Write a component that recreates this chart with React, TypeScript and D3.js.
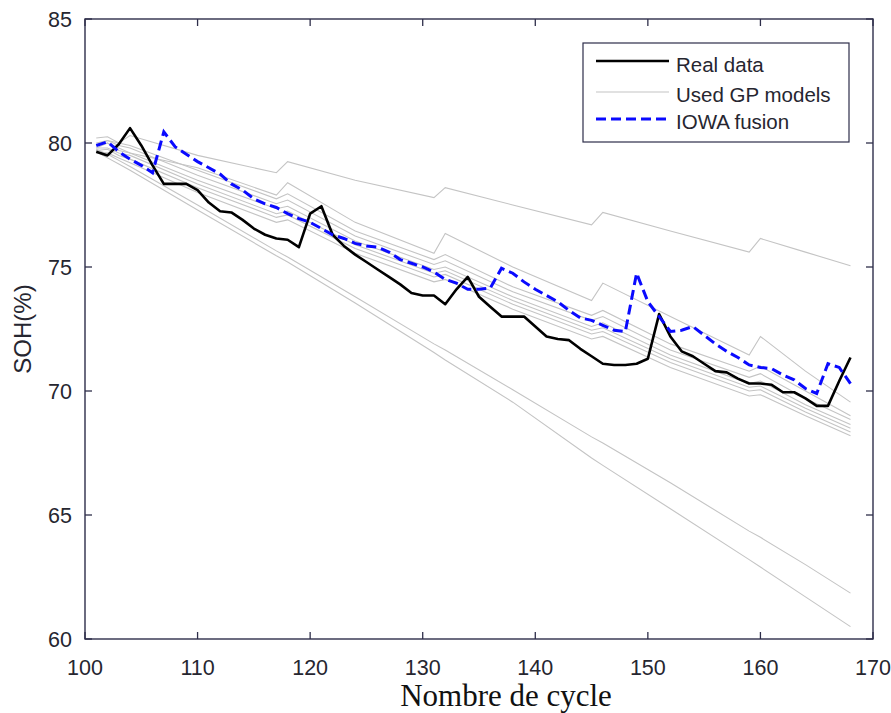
import React from 'react';
import * as d3 from 'd3';

// Cycle index for the measured and fused series
const cycles = [
  101, 102, 103, 104, 105, 106, 107, 108, 109, 110,
  111, 112, 113, 114, 115, 116, 117, 118, 119, 120,
  121, 122, 123, 124, 125, 126, 127, 128, 129, 130,
  131, 132, 133, 134, 135, 136, 137, 138, 139, 140,
  141, 142, 143, 144, 145, 146, 147, 148, 149, 150,
  151, 152, 153, 154, 155, 156, 157, 158, 159, 160,
  161, 162, 163, 164, 165, 166, 167, 168,
];

// Measured state of health (%)
const realData = [
  79.65, 79.5, 79.95, 80.6, 79.9, 79.1, 78.35, 78.35, 78.35, 78.1,
  77.6, 77.25, 77.2, 76.9, 76.55, 76.3, 76.15, 76.1, 75.8, 77.15,
  77.45, 76.3, 75.85, 75.5, 75.2, 74.9, 74.6, 74.3, 73.95, 73.85,
  73.85, 73.5, 74.1, 74.6, 73.8, 73.4, 73.0, 73.0, 73.0, 72.6,
  72.2, 72.1, 72.05, 71.7, 71.4, 71.1, 71.05, 71.05, 71.1, 71.3,
  73.1, 72.2, 71.6, 71.4, 71.1, 70.8, 70.75, 70.5, 70.3, 70.3,
  70.25, 69.95, 69.95, 69.7, 69.4, 69.4, 70.4, 71.35,
];

// IOWA-operator fusion of the GP predictions
const iowaFusion = [
  79.9, 80.05, 79.65, 79.35, 79.1, 78.8, 80.45, 79.85, 79.55, 79.25,
  79.0, 78.75, 78.35, 78.1, 77.75, 77.55, 77.4, 77.15, 76.95, 76.8,
  76.55, 76.3, 76.15, 75.95, 75.85, 75.8, 75.6, 75.3, 75.15, 75.0,
  74.8, 74.5, 74.35, 74.1, 74.1, 74.15, 74.95, 74.75, 74.4, 74.1,
  73.85, 73.6, 73.25, 72.95, 72.85, 72.65, 72.45, 72.4, 74.75, 73.6,
  73.0, 72.4, 72.45, 72.6, 72.25, 71.9, 71.6, 71.35, 71.05, 70.95,
  70.9, 70.65, 70.45, 70.1, 69.9, 71.1, 70.95, 70.3,
];

// GP model predictions, given at their vertices (models are refreshed every 14 cycles)
const modelCycles = [101, 102, 103, 104, 110, 117, 118, 124, 131, 132, 138, 145, 146, 152, 159, 160, 164, 168];

const gpModelA = [79.9, 80.1, 80.0, 80.3, 79.5, 78.8, 79.25, 78.5, 77.8, 78.2, 77.5, 76.7, 77.2, 76.45, 75.6, 76.15, 75.6, 75.05];
const gpModelB = [79.8, 80.0, 79.8, 79.6, 79.0, 77.9, 78.4, 76.8, 75.55, 76.35, 75.0, 73.65, 74.35, 73.0, 71.45, 72.2, 70.8, 69.55];
const gpModelC = [80.2, 80.25, 80.0, 79.9, 78.9, 77.75, 77.95, 76.45, 75.3, 75.5, 74.2, 73.05, 73.25, 71.9, 70.8, 71.0, 70.0, 69.0];
const gpModelD = [80.0, 80.1, 79.9, 79.8, 78.7, 77.55, 77.7, 76.25, 75.1, 75.25, 74.0, 72.85, 73.0, 71.65, 70.55, 70.7, 69.7, 68.85];
const gpModelE = [79.9, 80.0, 79.7, 79.6, 78.5, 77.35, 77.45, 76.05, 74.9, 75.0, 73.8, 72.6, 72.75, 71.45, 70.3, 70.4, 69.45, 68.65];
const gpModelF = [79.8, 79.8, 79.6, 79.5, 78.35, 77.15, 77.25, 75.9, 74.75, 74.85, 73.65, 72.45, 72.55, 71.3, 70.15, 70.2, 69.3, 68.5];
const gpModelG = [79.7, 79.75, 79.5, 79.35, 78.2, 77.0, 77.1, 75.75, 74.6, 74.7, 73.5, 72.3, 72.4, 71.15, 70.0, 70.05, 69.15, 68.35];
const gpModelH = [79.6, 79.6, 79.4, 79.2, 78.0, 76.8, 76.9, 75.55, 74.4, 74.5, 73.3, 72.1, 72.2, 70.95, 69.8, 69.85, 69.0, 68.2];
const gpModelI = [79.75, 79.55, 79.3, 79.05, 77.5, 75.65, 75.4, 73.8, 71.9, 71.65, 70.05, 68.15, 67.9, 66.3, 64.35, 64.1, 63.0, 61.85];
const gpModelJ = [79.65, 79.4, 79.15, 78.9, 77.3, 75.45, 75.2, 73.55, 71.55, 71.25, 69.55, 67.3, 67.0, 65.25, 63.2, 62.9, 61.7, 60.5];

const gpModels = [gpModelA, gpModelB, gpModelC, gpModelD, gpModelE, gpModelF, gpModelG, gpModelH, gpModelI, gpModelJ];

const xTicks = [100, 110, 120, 130, 140, 150, 160, 170];
const yTicks = [60, 65, 70, 75, 80, 85];
const legendLabels = ['Real data', 'Used GP models', 'IOWA fusion'];

const W = 891;
const H = 713;
const plot = { left: 85, right: 873, top: 19, bottom: 639 };
const axisColor = '#2e2e4a';
const textColor = '#262630';
const sans = '"Liberation Sans", Arial, sans-serif';

export default function App() {
  const x = d3.scaleLinear().domain([100, 170]).range([plot.left, plot.right]);
  const y = d3.scaleLinear().domain([60, 85]).range([plot.bottom, plot.top]);

  const line = d3
    .line<[number, number]>()
    .x((d) => x(d[0]))
    .y((d) => y(d[1]));

  const pairs = (xs: number[], ys: number[]) => xs.map((c, i) => [c, ys[i]] as [number, number]);

  const tick = 7;
  const lg = { x0: 583, x1: 849, y0: 43, y1: 142 };
  const rows = [61, 92, 119];
  const textRows = [72, 102, 129];

  return (
    <svg
      width={W}
      height={H}
      viewBox={`0 0 ${W} ${H}`}
      style={{ position: 'absolute', left: 0, top: 0, background: '#fff' }}
    >
      <rect x={0} y={0} width={W} height={H} fill="#fff" />

      {/* GP model predictions */}
      <g fill="none" stroke="#c4c4c4" strokeWidth={1.1}>
        {gpModels.map((m, i) => (
          <path key={i} d={line(pairs(modelCycles, m)) || ''} />
        ))}
      </g>

      {/* Measured SOH */}
      <path
        d={line(pairs(cycles, realData)) || ''}
        fill="none"
        stroke="#000"
        strokeWidth={2.6}
        strokeLinejoin="round"
      />

      {/* IOWA fusion */}
      <path
        d={line(pairs(cycles, iowaFusion)) || ''}
        fill="none"
        stroke="#0a0aff"
        strokeWidth={3}
        strokeDasharray="10,5"
      />

      {/* Axes box */}
      <rect
        x={plot.left}
        y={plot.top}
        width={plot.right - plot.left}
        height={plot.bottom - plot.top}
        fill="none"
        stroke={axisColor}
        strokeWidth={1.4}
      />

      {/* X ticks and labels */}
      {xTicks.map((t) => (
        <g key={`x${t}`}>
          <line x1={x(t)} x2={x(t)} y1={plot.bottom} y2={plot.bottom - tick} stroke={axisColor} strokeWidth={1.3} />
          <line x1={x(t)} x2={x(t)} y1={plot.top} y2={plot.top + tick} stroke={axisColor} strokeWidth={1.3} />
          <text
            x={x(t)}
            y={675}
            textAnchor="middle"
            fontFamily={sans}
            fontSize={21.5}
            fill={textColor}
          >
            {t}
          </text>
        </g>
      ))}

      {/* Y ticks and labels */}
      {yTicks.map((t) => (
        <g key={`y${t}`}>
          <line x1={plot.left} x2={plot.left + tick} y1={y(t)} y2={y(t)} stroke={axisColor} strokeWidth={1.3} />
          <line x1={plot.right} x2={plot.right - tick} y1={y(t)} y2={y(t)} stroke={axisColor} strokeWidth={1.3} />
          <text
            x={72}
            y={y(t) + 8}
            textAnchor="end"
            fontFamily={sans}
            fontSize={21.5}
            fill={textColor}
          >
            {t}
          </text>
        </g>
      ))}

      {/* Axis titles */}
      <text
        x={506}
        y={706}
        textAnchor="middle"
        fontFamily='"Liberation Serif", "Times New Roman", serif'
        fontSize={31}
        fill="#111"
      >
        Nombre de cycle
      </text>
      <text
        transform={`translate(31, ${(plot.top + plot.bottom) / 2}) rotate(-90)`}
        textAnchor="middle"
        fontFamily={sans}
        fontSize={24}
        fill={textColor}
      >
        SOH(%)
      </text>

      {/* Legend */}
      <g>
        <rect
          x={lg.x0}
          y={lg.y0}
          width={lg.x1 - lg.x0}
          height={lg.y1 - lg.y0}
          fill="#fff"
          stroke={axisColor}
          strokeWidth={1.2}
        />
        <line x1={596} x2={669} y1={rows[0]} y2={rows[0]} stroke="#000" strokeWidth={2.6} />
        <line x1={596} x2={669} y1={rows[1]} y2={rows[1]} stroke="#c4c4c4" strokeWidth={1.1} />
        <line x1={596} x2={669} y1={rows[2]} y2={rows[2]} stroke="#0a0aff" strokeWidth={3} strokeDasharray="10,5" />
        {legendLabels.map((lab, i) => (
          <text
            key={lab}
            x={676}
            y={textRows[i]}
            fontFamily={sans}
            fontSize={20.5}
            fill={textColor}
          >
            {lab}
          </text>
        ))}
      </g>
    </svg>
  );
}
